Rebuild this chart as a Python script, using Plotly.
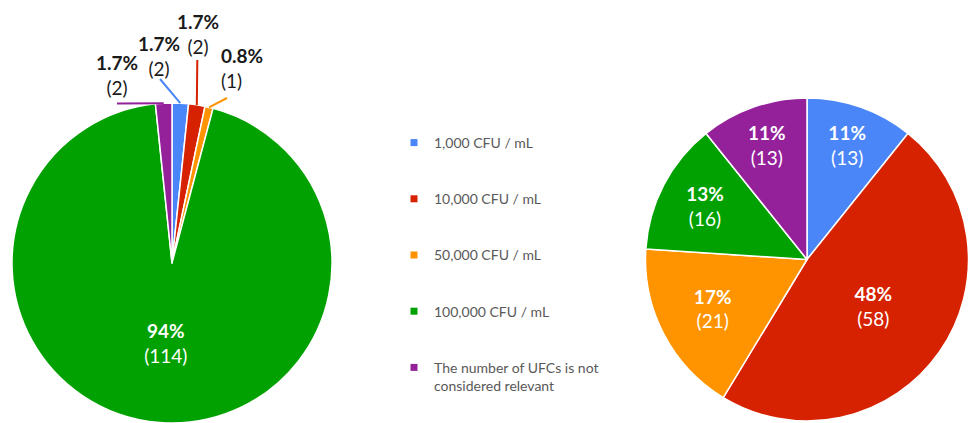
import math
import plotly.graph_objects as go

# ---------------- data ----------------
categories = ["1,000 CFU / mL", "10,000 CFU / mL", "50,000 CFU / mL",
              "100,000 CFU / mL", "The number of UFCs is not<br>considered relevant"]
left_values = [2, 2, 1, 114, 2]
right_values = [13, 58, 21, 16, 13]
colors = ["#4A86F7", "#D62200", "#FF9400", "#00A100", "#94219A"]

W, H = 969, 423
FONT = "Lato"


def pct_text(vals):
    t = sum(vals)
    out = []
    for v in vals:
        p = v / t * 100
        out.append(f"{p:.1f}%" if p < 10 else f"{p:.0f}%")
    return out


def pct_int(vals):
    t = sum(vals)
    return [f"{v / t * 100:.0f}%" for v in vals]


left_pct = pct_text(left_values)
right_pct = pct_int(right_values)

# pie domains in pixels (x0, x1, ytop, ybottom)
L_dom = (12, 332, 103, 423)
R_dom = (645, 969, 98, 421)


def dom(d):
    x0, x1, yt, yb = d
    return dict(x=[x0 / W, x1 / W], y=[(H - yb) / H, (H - yt) / H])


fig = go.Figure()

fig.add_trace(go.Pie(
    values=left_values, labels=categories, sort=False, direction="clockwise",
    domain=dom(L_dom), marker=dict(colors=colors, line=dict(color="white", width=1.5)),
    text=left_pct, texttemplate="<b>%{text}</b><br>(%{value})",
    textposition=["none", "none", "none", "inside", "none"],
    insidetextorientation="horizontal",
    insidetextfont=dict(family=FONT, size=19, color="white"),
    showlegend=False, hoverinfo="label+value+percent",
))

fig.add_trace(go.Pie(
    values=right_values, labels=categories, sort=False, direction="clockwise",
    domain=dom(R_dom), marker=dict(colors=colors, line=dict(color="white", width=1.5)),
    text=right_pct, texttemplate="<b>%{text}</b><br>(%{value})",
    textposition="inside", insidetextorientation="horizontal",
    insidetextfont=dict(family=FONT, size=19, color="white"),
    showlegend=False, hoverinfo="label+value+percent",
))

# legend entries (one per category, separate groups for spacing)
for i, (c, col) in enumerate(zip(categories, colors)):
    fig.add_trace(go.Scatter(
        x=[None], y=[None], mode="markers", name=c, legendgroup=str(i),
        marker=dict(symbol="square", size=7, color=col), showlegend=True,
        hoverinfo="skip",
    ))

# outside labels of the small slices in the left pie (label centre positions, leader end)
small_idx = [4, 0, 1, 2]
label_pos = {4: (117, 75, "center"), 0: (158.5, 55.5, "center"),
             1: (197.5, 34.5, "center"), 2: (219, 68, "left")}
leader_end = {4: (117, 103.5), 0: (160, 79), 1: (197.3, 60), 2: (227, 98)}

cx = (L_dom[0] + L_dom[1]) / 2
cy = (L_dom[2] + L_dom[3]) / 2
R = min(L_dom[1] - L_dom[0], L_dom[3] - L_dom[2]) / 2
tot = sum(left_values)
cum = 0
mids = []
for v in left_values:
    mids.append((cum + v / 2) / tot * 2 * math.pi)
    cum += v

annotations = []
shapes = []
for i in small_idx:
    lx, ly, al = label_pos[i]
    annotations.append(dict(
        x=lx / W, y=1 - ly / H, xref="paper", yref="paper",
        xanchor=al, yanchor="middle", align=al, showarrow=False,
        text=f"<b>{left_pct[i]}</b><br>({left_values[i]})",
        font=dict(family=FONT, size=19, color="#1a1a1a"),
    ))
    a = mids[i]
    ex = cx + R * math.sin(a)
    ey = cy - R * math.cos(a)
    tx, ty = leader_end[i]
    shapes.append(dict(type="line", xref="paper", yref="paper",
                       x0=ex / W, y0=1 - ey / H, x1=tx / W, y1=1 - ty / H,
                       line=dict(color=colors[i], width=2)))

fig.update_layout(
    width=W, height=H, margin=dict(l=0, r=0, t=0, b=0),
    paper_bgcolor="white", plot_bgcolor="white",
    xaxis=dict(visible=False), yaxis=dict(visible=False),
    annotations=annotations, shapes=shapes,
    legend=dict(x=394 / W, y=1 - 127 / H, xanchor="left", yanchor="top",
                font=dict(family=FONT, size=14, color="#595959"),
                tracegroupgap=35, valign="top", itemsizing="trace",
                bgcolor="rgba(0,0,0,0)"),
    font=dict(family=FONT),
)

fig.write_html("out.html", config={"displayModeBar": False},
               post_script="document.body.style.margin='0';")
